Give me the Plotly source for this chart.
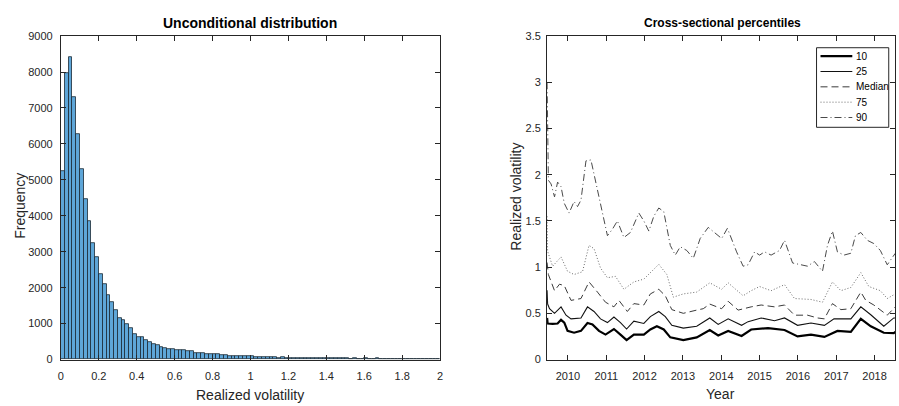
import plotly.graph_objects as go

# ---------------- Histogram data ----------------
bin_width = 0.02
bin_lefts = [round(i * bin_width, 2) for i in range(100)]
counts = [5230, 7980, 8420, 7290, 6270, 5290, 4460, 3850, 3230, 2850,
          2380, 2110, 1780, 1590, 1380, 1160, 1110, 1000, 865, 700,
          625, 630, 545, 490, 430, 390, 350, 330, 300, 295,
          270, 250, 265, 225, 225, 190, 185, 170, 165, 160,
          140, 140, 135, 125, 110, 90, 100, 100, 100, 95,
          85, 80, 70, 60, 75, 70, 55, 50, 55, 50,
          50, 45, 45, 45, 40, 40, 45, 40, 35, 40,
          30, 30, 35, 30, 30, 30, 25, 30, 25, 25,
          30, 20, 25, 40, 25, 20, 20, 25, 20, 20,
          20, 15, 20, 15, 15, 10, 20, 20, 10, 25]
hist_xticks = [0, 0.2, 0.4, 0.6, 0.8, 1, 1.2, 1.4, 1.6, 1.8, 2]
hist_xticklabels = ["0", "0.2", "0.4", "0.6", "0.8", "1", "1.2", "1.4", "1.6", "1.8", "2"]
hist_yticks = [0, 1000, 2000, 3000, 4000, 5000, 6000, 7000, 8000, 9000]

# ---------------- Percentile series ----------------
p10_t = [2009.456, 2009.47, 2009.6, 2009.73, 2009.82, 2009.905, 2009.99, 2010.16, 2010.34, 2010.51,
         2010.64, 2010.81, 2010.98, 2011.20, 2011.37, 2011.53, 2011.72, 2011.98, 2012.15, 2012.32,
         2012.50, 2012.67, 2013.01, 2013.36, 2013.70, 2013.92, 2014.18, 2014.53, 2014.78, 2015.22,
         2015.65, 2015.99, 2016.34, 2016.69, 2017.03, 2017.38, 2017.64, 2017.90, 2018.24, 2018.50, 2018.54]
p10_v = [0.45, 0.39, 0.385, 0.39, 0.43, 0.40, 0.31, 0.29, 0.31, 0.395,
         0.38, 0.31, 0.27, 0.33, 0.27, 0.21, 0.27, 0.27, 0.325, 0.36,
         0.325, 0.24, 0.21, 0.24, 0.32, 0.26, 0.31, 0.255, 0.325, 0.34,
         0.32, 0.25, 0.27, 0.245, 0.31, 0.30, 0.44, 0.36, 0.29, 0.285, 0.30]

p25_t = [2009.456, 2009.47, 2009.52, 2009.65, 2009.82, 2009.95, 2010.08, 2010.34, 2010.51, 2010.68,
         2010.85, 2011.03, 2011.20, 2011.37, 2011.53, 2011.72, 2011.98, 2012.15, 2012.37, 2012.54,
         2012.71, 2013.01, 2013.36, 2013.70, 2013.92, 2014.18, 2014.53, 2014.70, 2015.04, 2015.39,
         2015.65, 2015.99, 2016.34, 2016.69, 2016.94, 2017.38, 2017.64, 2017.90, 2018.24, 2018.50, 2018.54]
p25_v = [0.75, 0.60, 0.55, 0.50, 0.57, 0.48, 0.44, 0.45, 0.57, 0.52,
         0.44, 0.40, 0.46, 0.40, 0.33, 0.415, 0.39, 0.465, 0.52, 0.465,
         0.37, 0.34, 0.36, 0.45, 0.38, 0.44, 0.37, 0.41, 0.45, 0.42,
         0.45, 0.37, 0.395, 0.37, 0.44, 0.44, 0.57, 0.485, 0.36, 0.45, 0.45]

p50_t = [2009.456, 2009.49, 2009.65, 2009.78, 2009.905, 2010.08, 2010.34, 2010.55, 2010.77, 2010.98,
         2011.20, 2011.33, 2011.55, 2011.72, 2011.98, 2012.15, 2012.37, 2012.54, 2012.71, 2013.01,
         2013.36, 2013.53, 2013.70, 2014.01, 2014.18, 2014.44, 2014.78, 2015.04, 2015.39, 2015.65,
         2015.91, 2016.25, 2016.51, 2016.69, 2016.90, 2017.12, 2017.38, 2017.64, 2017.77, 2017.98,
         2018.33, 2018.54]
p50_v = [1.05, 0.92, 0.745, 0.815, 0.80, 0.64, 0.66, 0.84, 0.73, 0.62,
         0.57, 0.64, 0.52, 0.605, 0.59, 0.71, 0.76, 0.69, 0.54, 0.50,
         0.535, 0.55, 0.60, 0.55, 0.63, 0.535, 0.57, 0.59, 0.57, 0.59,
         0.48, 0.48, 0.45, 0.44, 0.605, 0.54, 0.55, 0.73, 0.64, 0.59,
         0.48, 0.57]

p75_t = [2009.456, 2009.47, 2009.60, 2009.82, 2009.99, 2010.16, 2010.38, 2010.55, 2010.68, 2010.85,
         2011.03, 2011.24, 2011.46, 2011.72, 2011.98, 2012.24, 2012.37, 2012.58, 2012.75, 2013.01,
         2013.36, 2013.70, 2014.01, 2014.18, 2014.57, 2014.78, 2015.00, 2015.30, 2015.65, 2015.91,
         2016.34, 2016.64, 2016.90, 2017.12, 2017.38, 2017.64, 2017.85, 2018.15, 2018.33, 2018.54]
p75_v = [1.55, 1.17, 1.01, 1.11, 0.955, 0.92, 0.95, 1.235, 1.20, 0.99,
         0.885, 0.90, 0.76, 0.84, 0.87, 0.97, 1.03, 0.92, 0.675, 0.71,
         0.73, 0.83, 0.76, 0.83, 0.69, 0.745, 0.79, 0.745, 0.81, 0.66,
         0.65, 0.62, 0.84, 0.745, 0.78, 0.94, 0.79, 0.745, 0.66, 0.71]

p90_t = [2009.456, 2009.47, 2009.49, 2009.56, 2009.65, 2009.73, 2009.82, 2009.905, 2010.03, 2010.16,
         2010.25, 2010.34, 2010.47, 2010.60, 2010.68, 2010.77, 2010.90, 2011.03, 2011.16, 2011.29,
         2011.46, 2011.63, 2011.85, 2011.98, 2012.11, 2012.24, 2012.37, 2012.50, 2012.67, 2012.80,
         2012.93, 2013.10, 2013.27, 2013.45, 2013.66, 2013.83, 2014.01, 2014.16, 2014.40, 2014.57,
         2014.70, 2014.87, 2015.00, 2015.13, 2015.30, 2015.52, 2015.65, 2015.86, 2016.08, 2016.25,
         2016.43, 2016.64, 2016.77, 2016.90, 2017.03, 2017.20, 2017.38, 2017.50, 2017.64, 2017.81,
         2017.98, 2018.15, 2018.33, 2018.54]
p90_v = [3.0, 2.36, 1.94, 1.90, 1.76, 1.92, 1.87, 1.69, 1.585, 1.71,
         1.655, 1.725, 2.15, 2.16, 2.01, 1.83, 1.585, 1.34, 1.41, 1.50,
         1.32, 1.375, 1.585, 1.50, 1.39, 1.55, 1.64, 1.60, 1.235, 1.13,
         1.22, 1.18, 1.095, 1.31, 1.43, 1.375, 1.31, 1.42, 1.165, 1.01,
         1.025, 1.165, 1.13, 1.165, 1.13, 1.18, 1.29, 1.045, 1.025, 1.01,
         1.06, 0.955, 1.235, 1.39, 1.165, 1.13, 1.15, 1.34, 1.375, 1.29,
         1.255, 1.18, 1.025, 1.15]

series_names = ["10", "25", "Median", "75", "90"]

year_ticks = [2010, 2011, 2012, 2013, 2014, 2015, 2016, 2017, 2018]
ts_yticks = [0, 0.5, 1, 1.5, 2, 2.5, 3, 3.5]
ts_yticklabels = ["0", "0.5", "1", "1.5", "2", "2.5", "3", "3.5"]

# ---------------- Figure ----------------
W, H = 899, 406
FONT = "Liberation Sans, Arial, sans-serif"
AX = "#262626"

fig = go.Figure()

bin_centers = [b + bin_width / 2 for b in bin_lefts]
fig.add_trace(go.Bar(
    x=bin_centers, y=counts, width=bin_width,
    marker=dict(color="#5EA6D8", line=dict(color="#1b2a35", width=0.8)),
    xaxis="x", yaxis="y", showlegend=False, hoverinfo="x+y"))

styles = [
    dict(color="#000000", width=2.2, dash="solid"),
    dict(color="#111111", width=1.1, dash="solid"),
    dict(color="#3a3a3a", width=1, dash="7px,4px"),
    dict(color="#6a6a6a", width=1, dash="1px,2px"),
    dict(color="#4a4a4a", width=1, dash="7px,3px,1px,3px"),
]
data_t = [p10_t, p25_t, p50_t, p75_t, p90_t]
data_v = [p10_v, p25_v, p50_v, p75_v, p90_v]
for name, t, v, ln in zip(series_names, data_t, data_v, styles):
    fig.add_trace(go.Scatter(x=t, y=v, mode="lines", name=name, line=ln,
                             xaxis="x2", yaxis="y2", showlegend=False))

axis_common = dict(showline=True, linecolor=AX, linewidth=1, mirror="ticks",
                   ticks="inside", ticklen=5, tickcolor=AX, tickwidth=1,
                   showgrid=False, zeroline=False,
                   tickfont=dict(family=FONT, size=11, color=AX))

y0 = 1 - 364.3 / H
y1 = 1 - 31 / H

# manual legend box (MATLAB style, compact rows)
leg_x0, leg_x1 = 819 / W, 891.7 / W
leg_top, leg_bot = 1 - 43 / H, 1 - 125 / H
row_px = [51.7, 67.5, 83.3, 99.1, 114.9]
shapes = [dict(type="rect", xref="paper", yref="paper", x0=leg_x0, x1=leg_x1,
               y0=leg_bot, y1=leg_top, line=dict(color=AX, width=1),
               fillcolor="white", layer="above")]
annotations = []
for name, ln, rp in zip(series_names, styles, row_px):
    yy = 1 - rp / H
    shapes.append(dict(type="line", xref="paper", yref="paper",
                       x0=823 / W, x1=855 / W, y0=yy, y1=yy,
                       line=dict(color=ln["color"], width=ln["width"], dash=ln["dash"]),
                       layer="above"))
    annotations.append(dict(text=name, x=857 / W, y=yy, xref="paper", yref="paper",
                            showarrow=False, xanchor="left", yanchor="middle",
                            font=dict(family=FONT, size=10, color="#000000")))

annotations += [
    dict(text="<b>Unconditional distribution</b>", x=249 / W, y=1 - 18 / H, xref="paper", yref="paper",
         showarrow=False, xanchor="center", yanchor="middle",
         font=dict(family=FONT, size=14, color="#000000")),
    dict(text="<b>Cross-sectional percentiles</b>", x=724 / W, y=1 - 18 / H, xref="paper", yref="paper",
         showarrow=False, xanchor="center", yanchor="middle",
         font=dict(family=FONT, size=12, color="#000000")),
    dict(text="Realized volatility", x=249 / W, y=0, xref="paper", yref="paper",
         showarrow=False, xanchor="center", yanchor="bottom", yshift=-5,
         font=dict(family=FONT, size=14, color=AX)),
    dict(text="Frequency", x=17 / W, y=1 - 206 / H, xref="paper", yref="paper",
         showarrow=False, xanchor="center", yanchor="middle", textangle=-90,
         font=dict(family=FONT, size=14, color=AX)),
    dict(text="Year", x=722 / W, y=0, xref="paper", yref="paper",
         showarrow=False, xanchor="center", yanchor="bottom", yshift=-4,
         font=dict(family=FONT, size=14, color=AX)),
    dict(text="Realized volatility", x=517 / W, y=1 - 197 / H, xref="paper", yref="paper",
         showarrow=False, xanchor="center", yanchor="middle", textangle=-90,
         font=dict(family=FONT, size=14, color=AX)),
]

fig.update_layout(
    width=W, height=H,
    margin=dict(l=0, r=0, t=0, b=0),
    paper_bgcolor="white", plot_bgcolor="white",
    font=dict(family=FONT, color=AX),
    showlegend=False,
    xaxis=dict(domain=[58.3 / W, 440 / W], range=[0, 2], ticklabelstandoff=6,
               tickvals=hist_xticks, ticktext=hist_xticklabels, anchor="y", **axis_common),
    yaxis=dict(domain=[y0, y1], range=[0, 9000], tickvals=hist_yticks, ticklabelstandoff=5,
               anchor="x", **axis_common),
    xaxis2=dict(domain=[547.7 / W, 898.3 / W], range=[2009.455, 2018.54], ticklabelstandoff=6,
                tickvals=year_ticks, ticktext=[str(y) for y in year_ticks], anchor="y2", **axis_common),
    yaxis2=dict(domain=[y0, y1], range=[0, 3.5], tickvals=ts_yticks, ticklabelstandoff=3,
                ticktext=ts_yticklabels, anchor="x2", **axis_common),
    bargap=0,
    shapes=shapes,
    annotations=annotations,
)

fig.write_html("out.html", config={"displayModeBar": False},
               post_script="document.body.style.margin='0px';document.body.style.overflow='hidden';")
